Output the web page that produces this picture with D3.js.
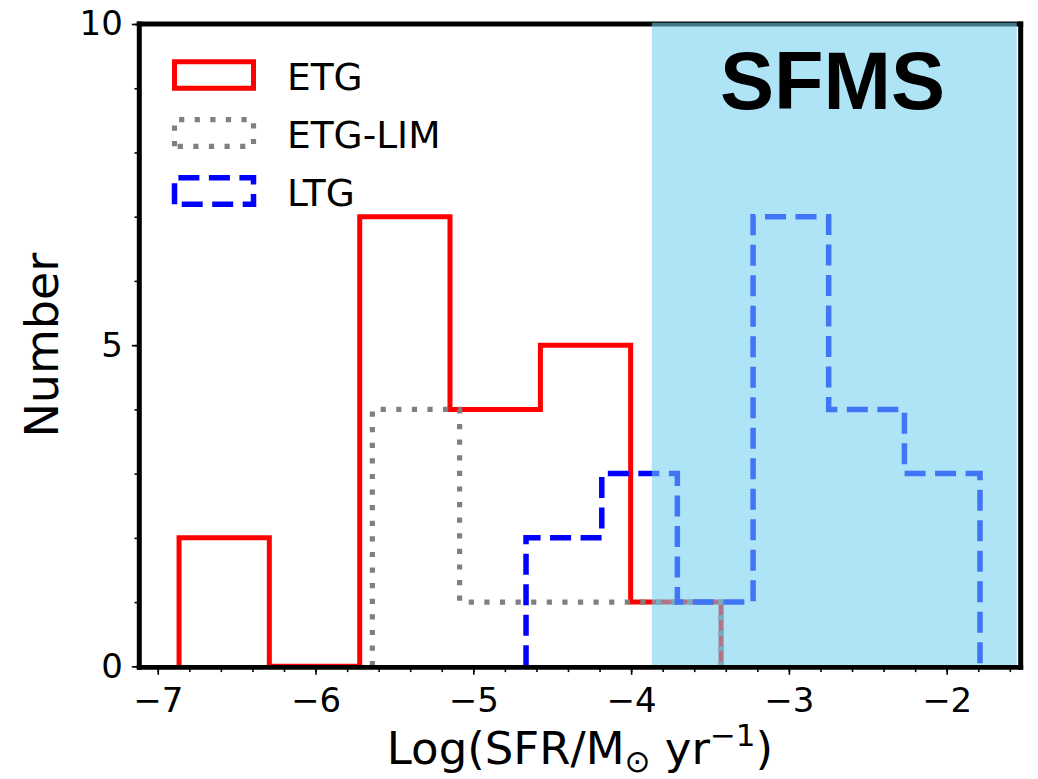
<!DOCTYPE html>
<html>
<head>
<meta charset="utf-8">
<script src="https://cdn.jsdelivr.net/npm/d3@7"></script>
<style>
  html, body { margin: 0; padding: 0; background: #fff; }
  svg { display: block; }
  text { font-family: "DejaVu Sans", sans-serif; fill: #000; }
</style>
</head>
<body>
<svg id="chart" width="1038" height="779"></svg>
<script>
// ---- data ----
const seriesNames = ["ETG", "ETG-LIM", "LTG"];
const etgEdges    = [-6.865, -6.293, -5.720, -5.148, -4.575, -4.003, -3.430];
const etgCounts   = [2, 0, 7, 4, 5, 1];
const etgLimEdges = [-5.640, -5.087, -4.535, -3.982, -3.430];
const etgLimCounts= [4, 1, 1, 1];
const ltgEdges    = [-4.666, -4.186, -3.707, -3.227, -2.748, -2.268, -1.789];
const ltgCounts   = [2, 3, 1, 7, 4, 3];
const sfmsRange   = [-3.869, -1.556];
const xTicks      = [-7, -6, -5, -4, -3, -2];
const yTicks      = [0, 5, 10];
const xDomain     = [-7.117, -1.531];
const yDomain     = [0, 10];

// ---- layout ----
const svg = d3.select("#chart");
const L = 139.3, R = 1020.7, T = 24, B = 666.3;
const x = d3.scaleLinear().domain(xDomain).range([L, R]);
const y = d3.scaleLinear().domain(yDomain).range([B, T]);

const styles = {
  "ETG":     { color: "#ff0000", width: 5,   dash: null },
  "ETG-LIM": { color: "#808080", width: 5.2, dash: "5.2,10.4" },
  "LTG":     { color: "#0000ff", width: 5.5, dash: "21,9.5" }
};

function stepPoints(edges, counts) {
  const pts = [[edges[0], 0]];
  counts.forEach((c, i) => { pts.push([edges[i], c]); pts.push([edges[i + 1], c]); });
  pts.push([edges[edges.length - 1], 0]);
  return pts;
}
const line = d3.line().x(d => x(d[0])).y(d => y(d[1]));

// top spine (drawn below band)
svg.append("line").attr("x1", L - 2.5).attr("x2", R + 2.5).attr("y1", T).attr("y2", T)
  .attr("stroke", "#000").attr("stroke-width", 5);

const data = [
  { name: "ETG", edges: etgEdges, counts: etgCounts },
  { name: "ETG-LIM", edges: etgLimEdges, counts: etgLimCounts },
  { name: "LTG", edges: ltgEdges, counts: ltgCounts }
];
data.forEach(s => {
  const st = styles[s.name];
  svg.append("path").attr("d", line(stepPoints(s.edges, s.counts)))
    .attr("fill", "none").attr("stroke", st.color).attr("stroke-width", st.width)
    .attr("stroke-dasharray", st.dash).attr("stroke-linejoin", "miter");
});

// SFMS band (over histograms)
svg.append("rect")
  .attr("x", x(sfmsRange[0])).attr("width", x(sfmsRange[1]) - x(sfmsRange[0]))
  .attr("y", T - 1.3).attr("height", B - T + 1.3)
  .attr("fill", "rgb(112,207,239)").attr("fill-opacity", 0.57);

svg.append("text").attr("x", 832.5).attr("y", 108.5).attr("text-anchor", "middle")
  .style("font-family", "'Liberation Sans', Arial, sans-serif")
  .style("font-weight", "bold").style("font-size", "81px").text("SFMS");

// remaining spines
svg.append("line").attr("x1", L - 2.5).attr("x2", R + 2.5).attr("y1", B + 1).attr("y2", B + 1)
  .attr("stroke", "#000").attr("stroke-width", 4.8);
svg.append("line").attr("x1", L).attr("x2", L).attr("y1", T - 2.5).attr("y2", B + 3.4)
  .attr("stroke", "#000").attr("stroke-width", 5);
svg.append("line").attr("x1", R).attr("x2", R).attr("y1", T - 2.5).attr("y2", B + 3.4)
  .attr("stroke", "#000").attr("stroke-width", 5);

// x axis ticks
const xMinor = d3.range(-35, -7).map(i => i / 5).filter(v => v >= xDomain[0] && v <= xDomain[1]);
const gx = svg.append("g").attr("transform", `translate(0,${B + 1})`);
gx.call(d3.axisBottom(x).tickValues(xMinor).tickSize(4.8).tickFormat(""));
gx.call(g => g.select(".domain").remove());
const gx2 = svg.append("g").attr("transform", `translate(0,${B + 1})`);
gx2.call(d3.axisBottom(x).tickValues(xTicks).tickSize(7.5).tickPadding(13)
  .tickFormat(d => "\u2212" + Math.abs(d)));
gx2.call(g => g.select(".domain").remove());

// y axis ticks
const yMinor = d3.range(0, 11);
const gy = svg.append("g").attr("transform", `translate(${L},0)`);
gy.call(d3.axisLeft(y).tickValues(yMinor).tickSize(4.8).tickFormat(""));
gy.call(g => g.select(".domain").remove());
const gy2 = svg.append("g").attr("transform", `translate(${L},0)`);
gy2.call(d3.axisLeft(y).tickValues(yTicks).tickSize(7.5).tickPadding(9).tickFormat(d3.format("d")));
gy2.call(g => g.select(".domain").remove());

svg.selectAll(".tick line").attr("stroke", "#000").attr("stroke-width", 1.6);
svg.selectAll(".tick text").style("font-family", "'DejaVu Sans', sans-serif")
  .style("font-size", "34px").attr("fill", "#000");

// axis labels
const xl = svg.append("text").attr("x", (L + R) / 2).attr("y", 764).attr("text-anchor", "middle")
  .style("font-size", "45px");
xl.append("tspan").text("Log(SFR/M");
xl.append("tspan").text("\u2299").style("font-size", "31px").attr("dy", 8);
xl.append("tspan").text(" yr").attr("dy", -8);
xl.append("tspan").text("\u22121").style("font-size", "31px").attr("dy", -18);
xl.append("tspan").text(")").attr("dy", 18);

svg.append("text").attr("transform", `translate(58,${(T + B) / 2}) rotate(-90)`)
  .attr("text-anchor", "middle").style("font-size", "46px").text("Number");

// legend
const legY = [75, 133, 191];
seriesNames.forEach((n, i) => {
  const st = styles[n];
  const cy = legY[i];
  const x0 = 174.5, x1 = 253.5, y0 = cy - 13.3, y1 = cy + 13.3;
  svg.append("path").attr("d", `M${x0},${y1}L${x0},${y0}L${x1},${y0}L${x1},${y1}Z`)
    .attr("fill", "none").attr("stroke", st.color).attr("stroke-width", st.width)
    .attr("stroke-dasharray", st.dash);
  svg.append("text").attr("x", 287).attr("y", cy + 14.5).style("font-size", "37.5px").text(n);
});
</script>
</body>
</html>
